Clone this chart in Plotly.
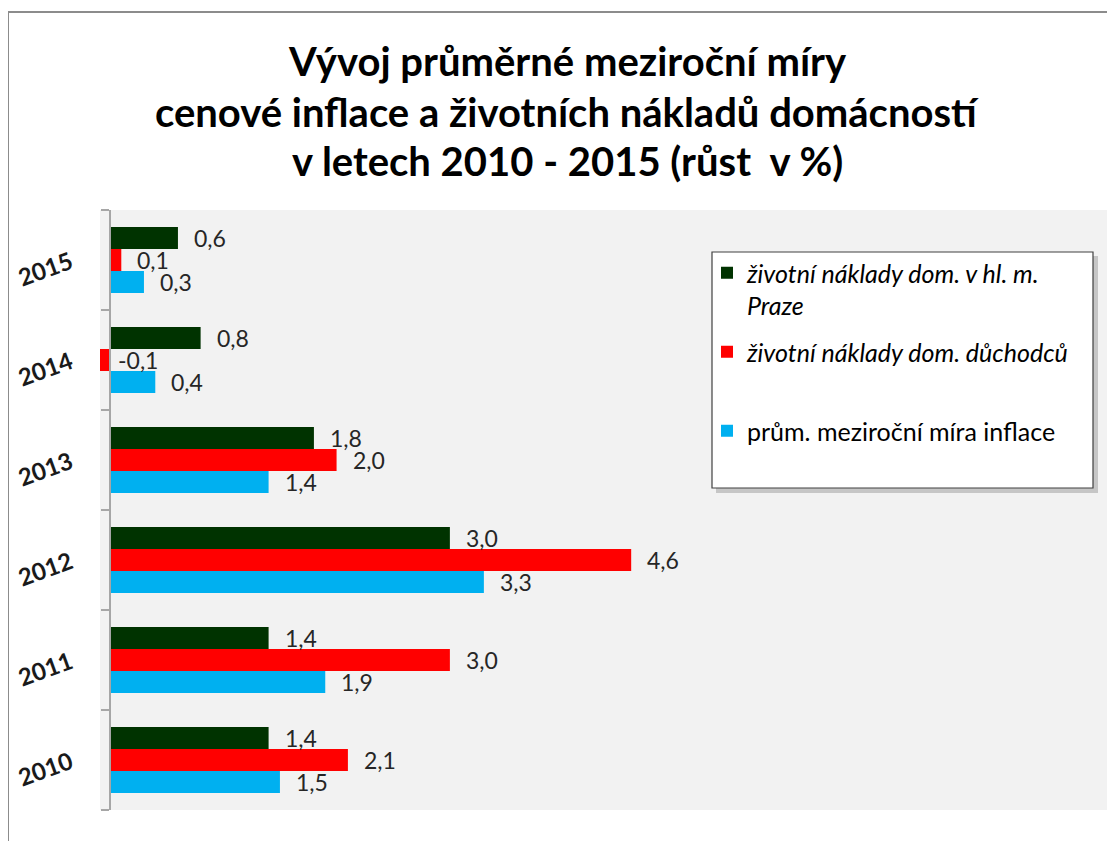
import plotly.graph_objects as go

years = ["2010", "2011", "2012", "2013", "2014", "2015"]
praha = [1.4, 1.4, 3.0, 1.8, 0.8, 0.6]
duchodci = [2.1, 3.0, 4.6, 2.0, -0.1, 0.1]
inflace = [1.5, 1.9, 3.3, 1.4, 0.4, 0.3]

name_praha = "<i>životní náklady dom. v hl. m.</i><br><i>Praze</i>"
name_duch = "<i>životní náklady dom. důchodců</i><br> "
name_infl = "prům. meziroční míra inflace"

title_lines = [
    "Vývoj průměrné meziroční míry",
    "cenové inflace a životních nákladů domácností",
    "v letech 2010 - 2015 (růst  v %)",
]

FONT = "Lato"
OFF = 8  # page body margin
W, H = 1115, 841
ML, MR, MT, MB = 100 - OFF, 0 + OFF, 210 - OFF, 31 + OFF
PW, PH = W - ML - MR, H - MT - MB


def px_x(p):
    return (p - OFF - ML) / PW


def px_y(p):
    return (H - MB - (p - OFF)) / PH


fig = go.Figure()
series = [
    (name_infl, inflace, "#00b0f0", -22, 3),
    (name_duch, duchodci, "#ff0000", 0, 2),
    (name_praha, praha, "#003300", 22, 1),
]
for name, vals, col, _, rank in series:
    fig.add_trace(go.Bar(
        y=years, x=vals, orientation="h", name=name,
        marker=dict(color=col, line=dict(width=0)),
        legendgroup=f"g{rank}", legendrank=rank,
    ))

annotations = []
for name, vals, col, ys, _ in series:
    for j, v in enumerate(vals):
        annotations.append(dict(
            x=max(v, 0), y=j, xref="x", yref="y",
            text=f"{v:.1f}".replace(".", ","),
            showarrow=False, xanchor="left", yanchor="middle",
            xshift=14 if v > 0 else 6, yshift=ys,
            font=dict(family=FONT, size=23, color="#262626"),
        ))

for line, yp in zip(title_lines, [61, 112, 161]):
    annotations.append(dict(
        x=px_x(567), y=px_y(yp), xref="paper", yref="paper",
        text=f"<b>{line}</b>", showarrow=False,
        xanchor="center", yanchor="middle",
        font=dict(family=FONT, size=40, color="#000000"),
    ))

shapes = [
    dict(type="rect", xref="paper", yref="paper",
         x0=px_x(8), x1=px_x(1130), y0=px_y(860), y1=px_y(12),
         line=dict(color="#8c8c8c", width=2), fillcolor="rgba(0,0,0,0)", layer="below"),
    dict(type="rect", xref="paper", yref="paper",
         x0=px_x(716), x1=px_x(1098), y0=px_y(493), y1=px_y(256),
         line=dict(width=0), fillcolor="rgba(0,0,0,0.18)", layer="above"),
    dict(type="rect", xref="paper", yref="paper",
         x0=px_x(712), x1=px_x(1093), y0=px_y(488), y1=px_y(252),
         line=dict(color="#404040", width=1.2), fillcolor="#ffffff", layer="above"),
]

fig.update_layout(
    width=W, height=H,
    margin=dict(l=ML, r=MR, t=MT, b=MB, autoexpand=False),
    paper_bgcolor="#ffffff", plot_bgcolor="#f2f2f2",
    barmode="group", bargap=0.34, bargroupgap=0,
    font=dict(family=FONT, size=25, color="#000000"),
    showlegend=True,
    legend=dict(
        x=px_x(707), y=px_y(250), xanchor="left", yanchor="top",
        bgcolor="rgba(0,0,0,0)", borderwidth=0,
        traceorder="grouped", tracegroupgap=11,
        valign="top", font=dict(family=FONT, size=25, color="#000000"),
        itemclick=False,
    ),
    xaxis=dict(range=[-0.088, 8.87], showgrid=False, zeroline=False,
               showticklabels=False, ticks="", showline=False, fixedrange=True,
               automargin=False),
    yaxis=dict(type="category", categoryorder="array", categoryarray=years,
               range=[-0.5, 5.5], autorange=False, automargin=False,
               anchor="free", position=px_x(110),
               showline=True, linecolor="#a6a6a6", linewidth=1.5,
               ticks="outside", tickson="boundaries", ticklen=8,
               tickcolor="#a6a6a6", tickwidth=1.5,
               tickangle=-20, ticklabelstandoff=34,
               tickfont=dict(family=FONT, size=24, color="#1a1a1a", weight="bold"),
               showgrid=False, fixedrange=True),
    annotations=annotations,
    shapes=shapes,
)

fig.write_html("out.html")
